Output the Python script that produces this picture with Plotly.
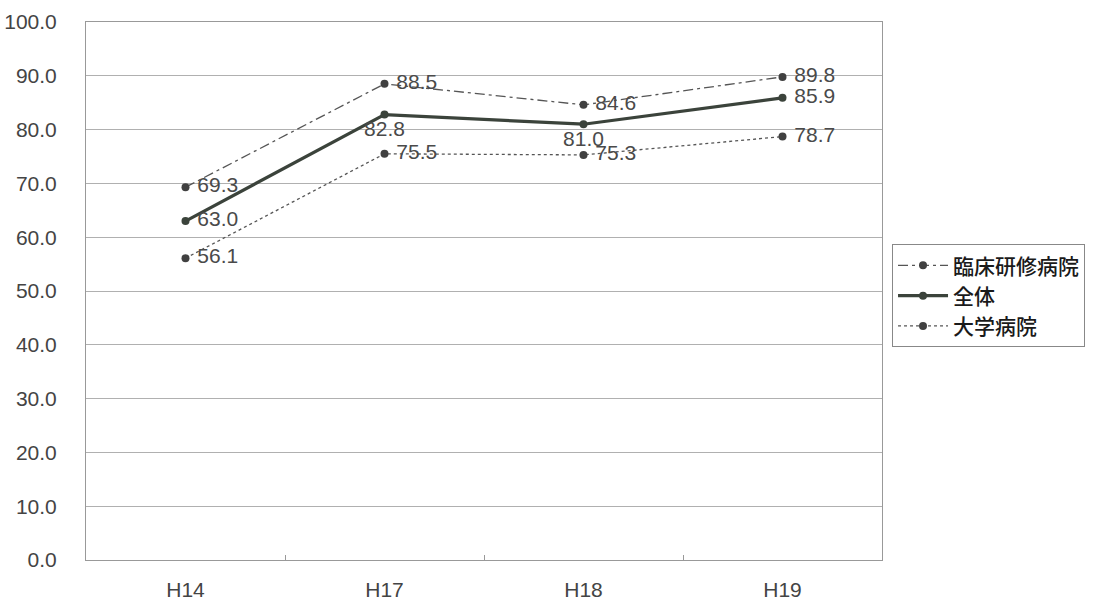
import plotly.graph_objects as go

categories = ["H14", "H17", "H18", "H19"]
rinsho = [69.3, 88.5, 84.6, 89.8]
zentai = [63.0, 82.8, 81.0, 85.9]
daigaku = [56.1, 75.5, 75.3, 78.7]
y_ticks = [0, 10, 20, 30, 40, 50, 60, 70, 80, 90, 100]
y_ticktext = [f"{v:.1f}" for v in y_ticks]

zentai_pos = ["middle right", "bottom center", "bottom center", "middle right"]

label_font = dict(family="Liberation Sans, Arial, sans-serif", size=21, color="#4a4a4a")

fig = go.Figure()
fig.add_trace(go.Scatter(
    x=categories, y=rinsho, name="臨床研修病院", mode="lines+markers+text",
    line=dict(color="#555555", width=1.3, dash="10px,4px,3px,4px"),
    marker=dict(color="#404040", size=8),
    text=[f" {v:.1f}" for v in rinsho], textposition="middle right",
    textfont=label_font, cliponaxis=False,
))
fig.add_trace(go.Scatter(
    x=categories, y=zentai, name="全体", mode="lines+markers+text",
    line=dict(color="#3b433b", width=3.2),
    marker=dict(color="#3b433b", size=8),
    text=[f" {v:.1f}" if p == "middle right" else f"{v:.1f}" for v, p in zip(zentai, zentai_pos)],
    textposition=zentai_pos,
    textfont=label_font, cliponaxis=False,
))
fig.add_trace(go.Scatter(
    x=categories, y=daigaku, name="大学病院", mode="lines+markers+text",
    line=dict(color="#555555", width=1.3, dash="dot"),
    marker=dict(color="#404040", size=8),
    text=[f" {v:.1f}" for v in daigaku], textposition="middle right",
    textfont=label_font, cliponaxis=False,
))

fig.update_layout(
    width=1108, height=605,
    margin=dict(l=86, r=226, t=22, b=45, autoexpand=False),
    paper_bgcolor="white", plot_bgcolor="white",
    showlegend=True,
    legend=dict(
        x=1.0126, y=0.587, xanchor="left", yanchor="top",
        bordercolor="#888888", borderwidth=1,
        font=dict(family="Noto Sans CJK JP", size=21, color="#1a1a1a", weight=500),
        tracegroupgap=0, itemwidth=50,
    ),
    xaxis=dict(
        type="category", range=[-0.5, 3.5], automargin=False,
        showline=True, mirror=True, linecolor="#999999", linewidth=1,
        showgrid=False, tickson="boundaries", ticks="inside", ticklen=5, tickcolor="#999999",
        tickfont=dict(family="Liberation Sans, Arial, sans-serif", size=21, color="#444444"),
        ticklabelstandoff=11,
    ),
    yaxis=dict(
        range=[0, 100], tickvals=y_ticks, ticktext=y_ticktext, automargin=False,
        showline=True, mirror=True, linecolor="#999999", linewidth=1,
        showgrid=True, gridcolor="#b0b0b0", gridwidth=1,
        zeroline=False, ticks="",
        tickfont=dict(family="Liberation Sans, Arial, sans-serif", size=21, color="#444444"),
        ticklabelstandoff=24,
    ),
)

fig.write_html(
    "out.html",
    config={"displayModeBar": False},
    post_script="document.body.style.margin='0px'; document.body.style.overflow='hidden';",
)
